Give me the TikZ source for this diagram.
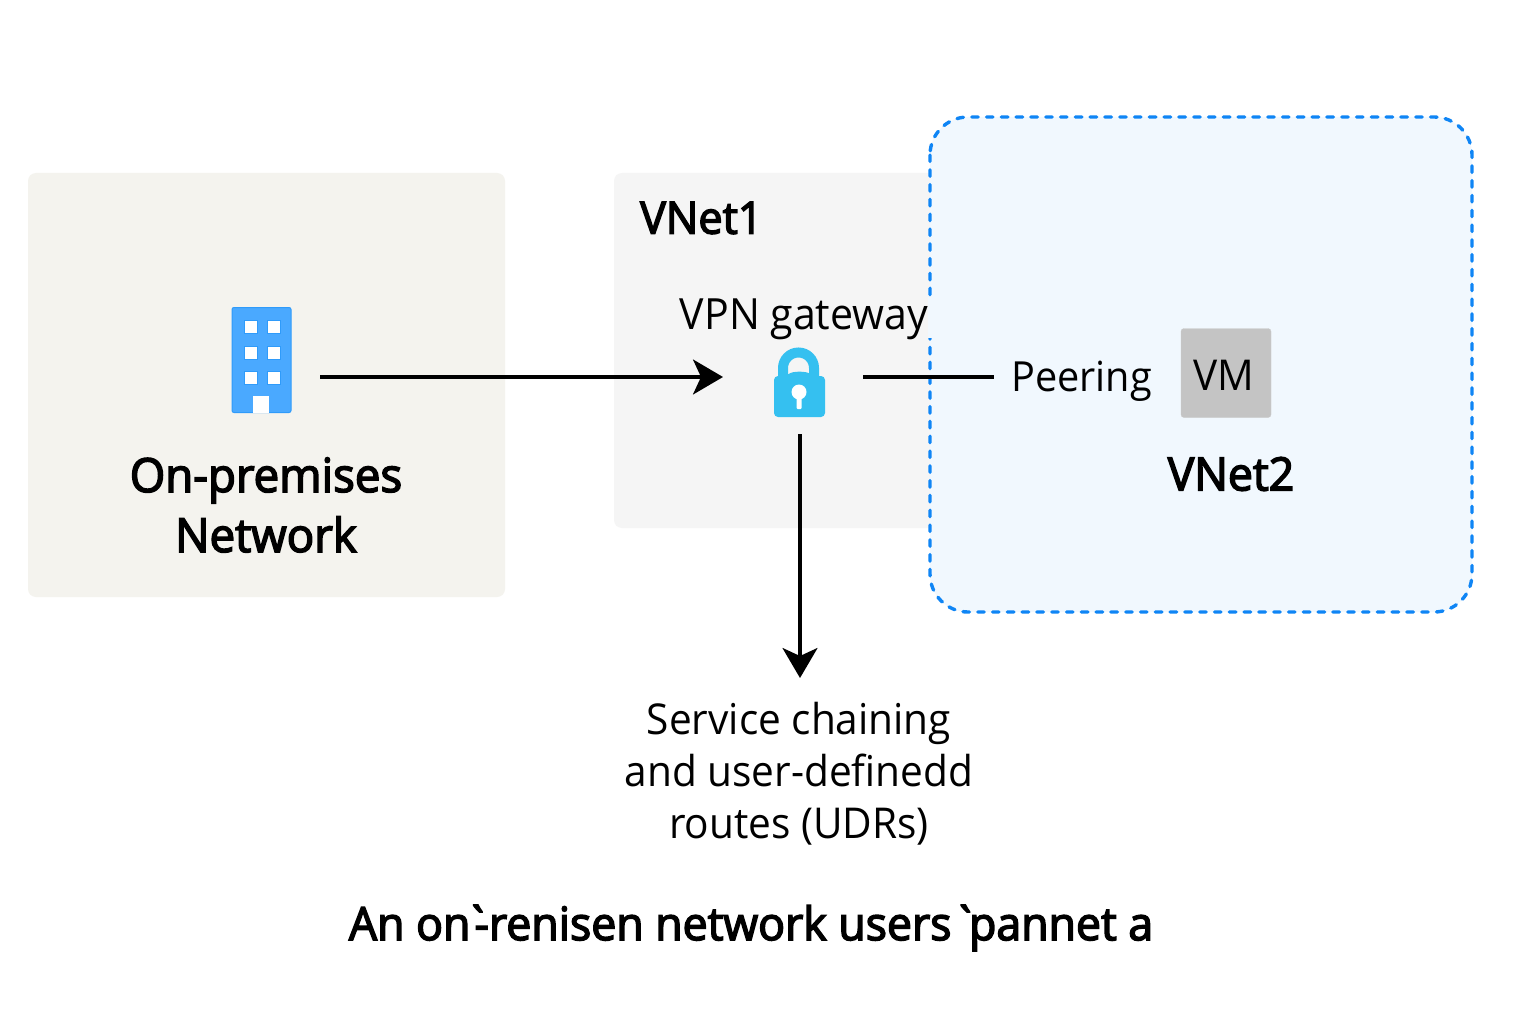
\documentclass[tikz,border=0pt]{standalone}
\usepackage{fontspec}
\setmainfont{Open Sans}[FakeStretch=0.955]
\newfontfamily\semib{Open Sans}[FakeStretch=0.97,FakeBold=3.2]
\usetikzlibrary{arrows.meta}
\definecolor{premfill}{HTML}{F4F3EE}
\definecolor{vonefill}{HTML}{F5F5F5}
\definecolor{vtwofill}{HTML}{F1F8FE}
\definecolor{vtwoline}{HTML}{0F85F5}
\definecolor{bldg}{HTML}{4AA9FF}
\definecolor{bldgline}{HTML}{2F9BFA}
\definecolor{lockc}{HTML}{35C0F0}
\definecolor{vmfill}{HTML}{C4C4C4}
\tikzset{
 x=1pt,y=-1pt,
 panel/.style={rounded corners=8pt},
 conn/.style={line width=3.2pt,black},
 arr/.style={conn,-{Stealth[length=30pt,width=35pt,inset=8pt]}},
 lab/.style={inner sep=0pt,align=center,text=black,font=\fontsize{42.5}{52}\selectfont},
 blab/.style={lab,font=\fontsize{46}{60}\selectfont\semib},
}
\begin{document}
\begin{tikzpicture}
\useasboundingbox (0,0) rectangle (1536,1024);
\fill[white] (0,0) rectangle (1536,1024);
\fill[premfill,panel] (28,173) rectangle (505,597);
\fill[vonefill,panel] (614,173) rectangle (1000,528);
\draw[vtwoline,fill=vtwofill,line width=3.4pt,dash pattern=on 6.5pt off 8.3pt,line cap=round,rounded corners=38pt] (930,117) rectangle (1472,612);
\fill[vtwofill] (927.8,297) rectangle (932.5,338);
% building
\filldraw[fill=bldg,draw=bldgline,line width=1pt,rounded corners=2pt] (232,307.5) rectangle (291,412.5);
\foreach \x in {244,267}{\foreach \y in {320,346,371}{\filldraw[fill=white,draw=bldgline,line width=.6pt] (\x,\y) rectangle +(13,13);}}
\fill[white] (253,396) rectangle (269,413);
% lock
\draw[lockc,line width=10pt] (783,384) -- (783,368) arc[start angle=180,end angle=0,radius=15.5pt] -- (814,384);
\fill[lockc,rounded corners=4pt] (774,376) -- (786,376) .. controls (793,371) and (806,371) .. (813,376) -- (825,376) -- (825,417) -- (774,417) -- cycle;
\fill[white] (799,392) circle (7.5pt);
\fill[white,rounded corners=1pt] (796.5,394) rectangle (801.5,409);
% vm
\node[draw=black!20,fill=vmfill,minimum width=90pt,minimum height=89pt,inner sep=0pt,rounded corners=3pt] (vm) at (1226,373) {};
\node[lab,anchor=center] at (1224,375) {VM};
% labels
\node[blab,font=\fontsize{47}{60}\selectfont\semib] (prem) at (266,505) {On-premises\\Network};
\node[blab,anchor=west,font=\fontsize{44.5}{60}\selectfont\semib] (vnetone) at (640,218) {VNet1};
\node[lab,font=\fontsize{43}{52}\selectfont] (gw) at (804,319) {VPN gateway};
\node[lab,anchor=west,font=\fontsize{41.5}{52}\selectfont] (peer) at (1011,381) {Peering};
\node[blab] (vnettwo) at (1231,474) {VNet2};
\node[lab] (svc) at (799,774) {Service chaining\\and user-definedd\\routes (UDRs)};
\node[blab] (cap) at (751,928) {An on\kern-.12em`\kern-.35em-renisen network users\kern.02em`\kern-.2em pannet a};
% connectors
\coordinate (bldgE) at (320,377);
\coordinate (lockW) at (723,377);
\coordinate (lockE) at (863,377);
\coordinate (peerW) at (994,377);
\coordinate (lockS) at (800,434);
\coordinate (svcN) at (800,678);
\draw[arr] (bldgE) -- (lockW);
\draw[conn] (lockE) -- (peerW);
\draw[arr] (lockS) -- (svcN);
\end{tikzpicture}
\end{document}
